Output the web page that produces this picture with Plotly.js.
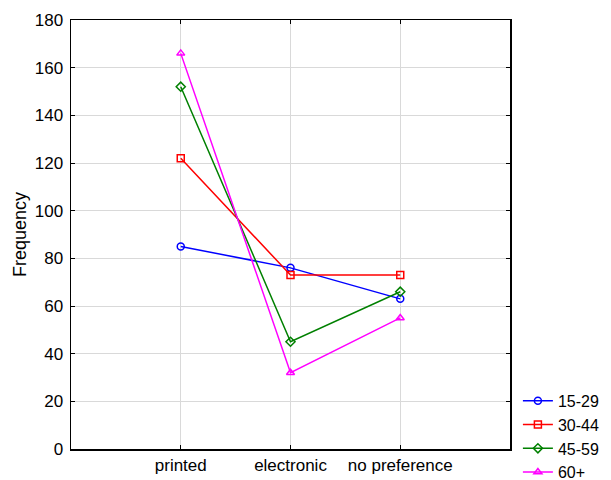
<!DOCTYPE html>
<html>
<head>
<meta charset="utf-8">
<script src="https://cdn.plot.ly/plotly-3.0.1.min.js"></script>
<style>html,body{margin:0;padding:0;background:#fff;}#chart{width:611px;height:480px;}</style>
</head>
<body>
<div id="chart"></div>
<script>
const categories = ["printed", "electronic", "no preference"];
const seriesNames = ["15-29", "30-44", "45-59", "60+"];
const values_15_29 = [85, 76, 63];
const values_30_44 = [122, 73, 73];
const values_45_59 = [152, 45, 66];
const values_60 = [166, 32, 55];
const yTicks = [0, 20, 40, 60, 80, 100, 120, 140, 160, 180];

const allValues = [values_15_29, values_30_44, values_45_59, values_60];
const colors = ["#0000ff", "#ff0000", "#008000", "#ff00ff"];
const symbols = ["circle-open", "square-open", "diamond-open", "triangle-up-open"];

const traces = allValues.map((vals, i) => ({
  type: "scatter",
  mode: "lines+markers",
  name: seriesNames[i],
  x: categories.map((c, j) => j),
  y: vals,
  line: {color: colors[i], width: 1.5},
  marker: {symbol: symbols[i], size: 7, color: colors[i], line: {width: 1.5, color: colors[i]}}
}));

const layout = {
  width: 611, height: 480,
  margin: {l: 71, r: 101, t: 20, b: 31, autoexpand: false},
  paper_bgcolor: "#fff", plot_bgcolor: "#fff",
  font: {family: "Liberation Sans, Arial, sans-serif", size: 17, color: "#000"},
  showlegend: true,
  legend: {x: 1.018, xanchor: "left", y: 0.152, yanchor: "top", font: {size: 16}, tracegroupgap: 0, bgcolor: "rgba(0,0,0,0)"},
  xaxis: {
    range: [-1, 3],
    tickvals: categories.map((c, j) => j),
    ticktext: categories,
    showgrid: true, gridcolor: "#d9d9d9", gridwidth: 1,
    zeroline: false,
    showline: true, linecolor: "#000", linewidth: 1.5, mirror: "ticks",
    ticks: "inside", ticklen: 4, tickcolor: "#000",
    tickfont: {size: 17}
  },
  yaxis: {
    range: [0, 180],
    tickvals: yTicks,
    showgrid: true, gridcolor: "#d9d9d9", gridwidth: 1,
    zeroline: false,
    showline: true, linecolor: "#000", linewidth: 1.5, mirror: "ticks",
    ticks: "inside", ticklen: 4, tickcolor: "#000",
    tickfont: {size: 17}, ticklabelstandoff: 3,
    title: {text: "Frequency", font: {size: 18}, standoff: 3}
  }
};

Plotly.newPlot("chart", traces, layout, {displayModeBar: false, staticPlot: true});
</script>
</body>
</html>
